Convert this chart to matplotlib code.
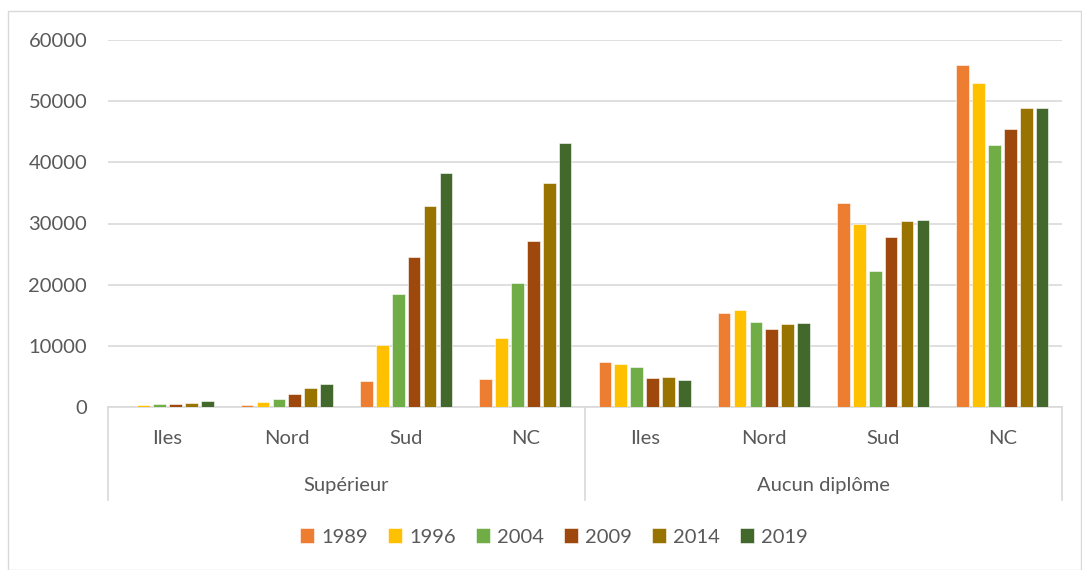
import matplotlib.pyplot as plt
from matplotlib.patches import Rectangle
import numpy as np

# Data
regions = ['Iles', 'Nord', 'Sud', 'NC']
groups = ['Supérieur', 'Aucun diplôme']
years = ['1989', '1996', '2004', '2009', '2014', '2019']

# values per year: Supérieur (Iles, Nord, Sud, NC) then Aucun diplôme (Iles, Nord, Sud, NC)
v1989 = [80, 300, 4200, 4550, 7350, 15300, 33300, 55950]
v1996 = [280, 850, 10100, 11300, 7050, 15900, 30000, 53000]
v2004 = [450, 1250, 18400, 20200, 6600, 13950, 22200, 42900]
v2009 = [500, 2050, 24600, 27150, 4750, 12800, 27750, 45400]
v2014 = [650, 3100, 32850, 36700, 4850, 13650, 30400, 48950]
v2019 = [1000, 3800, 38300, 43200, 4400, 13700, 30650, 48950]
series = [v1989, v1996, v2004, v2009, v2014, v2019]

myColors = ['#ED7D31', '#FFC000', '#70AD47', '#9E480E', '#997300', '#43682B']
textColor = '#595959'
gridColor = '#D9D9D9'
fs = 14.5

plt.rcParams['font.family'] = ['Lato', 'DejaVu Sans']

fig = plt.figure(figsize=(10.82, 5.70), dpi=100)
ax = fig.add_axes([108 / 1082, 1 - 407 / 570, 954 / 1082, 367 / 570])

# outer chart border
fig.patches.append(Rectangle((8 / 1082, 0.5 / 570), 1073 / 1082, 559 / 570,
                             transform=fig.transFigure, fill=False,
                             edgecolor=gridColor, lw=1.0))

n = len(regions) * len(groups)
x = np.arange(n)
slot = 0.8 / len(years)
for rank, vals in enumerate(series):
    offs = (rank - (len(years) - 1) / 2) * slot
    ax.bar(x + offs, vals, width=slot * 0.8, color=myColors[rank],
           edgecolor='white', lw=0.4, label=years[rank], zorder=3)

ax.set_xlim(-0.5, n - 0.5)
ax.set_ylim(0, 60000)
ax.set_yticks(range(0, 60001, 10000))
ax.yaxis.grid(True, color=gridColor, lw=1.2, zorder=0)
for s in ['top', 'right', 'left']:
    ax.spines[s].set_visible(False)
ax.spines['bottom'].set_color(gridColor)
ax.spines['bottom'].set_linewidth(1.2)
ax.tick_params(axis='y', length=0, pad=15, labelsize=fs, labelcolor=textColor)
ax.set_xticks([])

# multi-level category axis
trans = ax.get_xaxis_transform()
for i in range(n):
    ax.text(x[i], -0.085, regions[i % len(regions)], transform=trans,
            ha='center', va='center', fontsize=fs, color=textColor)
for g, name in enumerate(groups):
    mid = (len(regions) * g + len(regions) * (g + 1) - 1) / 2
    ax.text(mid, -0.215, name, transform=trans, ha='center', va='center',
            fontsize=fs, color=textColor)
for b in [-0.5, len(regions) - 0.5, n - 0.5]:
    ax.plot([b, b], [0, -0.253], transform=trans, color=gridColor, lw=1.2,
            clip_on=False)

leg = fig.legend(loc='center', bbox_to_anchor=(554 / 1082, 1 - 537 / 570), ncol=6,
                 frameon=False, fontsize=fs, handlelength=0.7,
                 handleheight=0.7, handletextpad=0.35, columnspacing=1.0)
for t in leg.get_texts():
    t.set_color(textColor)

plt.savefig('out.png', dpi=100)
